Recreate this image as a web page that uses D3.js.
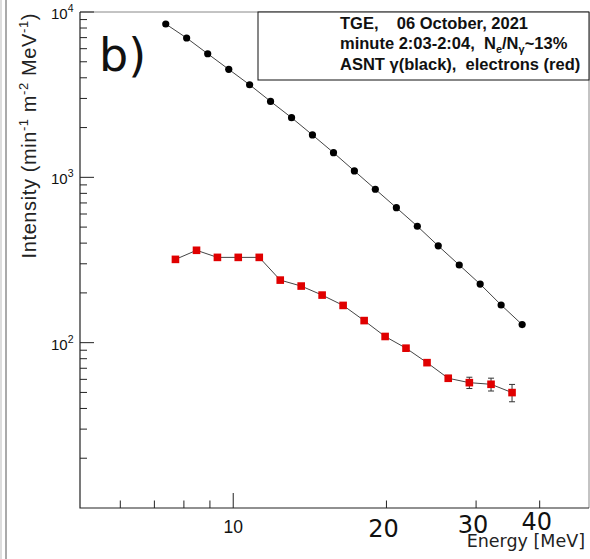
<!DOCTYPE html>
<html>
<head>
<meta charset="utf-8">
<script src="https://d3js.org/d3.v7.min.js"></script>
<style>
  body { margin: 0; background: #fff; }
  text { font-family: "Liberation Sans", Arial, sans-serif; white-space: pre; }
</style>
</head>
<body>
<svg id="main_canvas" width="590" height="559"></svg>
<script>
    // gamma spectrum (black) and electron spectrum (red)
    const gammaEnergy = [7.37, 8.10, 8.91, 9.80, 10.77, 11.84, 13.02, 14.31, 15.74, 17.30, 19.02, 20.92, 23.0, 25.28, 27.80, 30.56, 33.6, 36.95];
    const gammaIntensity = [8460, 6960, 5590, 4500, 3630, 2880, 2295, 1805, 1410, 1093, 847, 655, 506, 385, 295, 226, 169, 128.6];

    const electronEnergy = [7.70, 8.47, 9.31, 10.23, 11.25, 12.37, 13.60, 14.95, 16.44, 18.08, 19.88, 21.85, 24.03, 26.45, 29.1, 32.1, 35.3];
    const electronIntensity = [319, 362, 328, 328, 328, 239, 220, 194, 168, 136, 109, 92.6, 75.7, 60.9, 57.3, 56.0, 49.9];
    const electronError = [0, 0, 0, 0, 0, 0, 0, 0, 0, 0, 0, 0, 0, 2.5, 4.5, 5.0, 6.0];

    const xMajorTicks = [10];
    const xMinorTicks = [6, 7, 8, 9, 20, 30, 40];
    const xExtraLabels = ["20", "30", "40"];
    const yMajorTicks = [100, 1000, 10000];

    const legendLines = ["TGE,    06 October, 2021", "minute 2:03-2:04,  N", "ASNT \u03b3(black),  electrons (red)"];

    const margins = { left: 80, right: 1, top: 12, bottom: 51 };
    const W = 590, H = 559;

    const svg = d3.select("#main_canvas");

    const x = d3.scaleLog().domain([5, 50]).range([margins.left, W - margins.right]);
    const y = d3.scaleLog().domain([10, 10000]).range([H - margins.bottom, margins.top]);

    // gray strip at the left edge (left over from the neighbouring panel)
    svg.append("line")
        .attr("x1", 6).attr("x2", 6).attr("y1", 0).attr("y2", H)
        .attr("stroke", "#aaa").attr("stroke-width", 2);
    svg.append("line")
        .attr("x1", 1).attr("x2", 1).attr("y1", 0).attr("y2", H)
        .attr("stroke", "#ddd").attr("stroke-width", 2);

    // frame
    const x0 = x.range()[0], x1 = x.range()[1], y0 = y.range()[0], y1 = y.range()[1];
    svg.append("path")
        .attr("d", `M${x0},${y1}H${x1}V${y0}`)
        .attr("fill", "none").attr("stroke", "#888").attr("stroke-width", 1);
    svg.append("path")
        .attr("d", `M${x0},${y1}V${y0}H${x1}`)
        .attr("fill", "none").attr("stroke", "#222").attr("stroke-width", 1.2);

    // y ticks: majors at decades, minors 2..9
    const yMinor = [];
    for (let d = 10; d < 10000; d *= 10) {
        for (let k = 2; k <= 9; k++) yMinor.push(d * k);
    }
    svg.append("g").selectAll("line").data(yMinor).join("line")
        .attr("x1", x0).attr("x2", x0 + 7)
        .attr("y1", d => y(d)).attr("y2", d => y(d))
        .attr("stroke", "#222");
    svg.append("g").selectAll("line").data(yMajorTicks).join("line")
        .attr("x1", x0).attr("x2", x0 + 14)
        .attr("y1", d => y(d)).attr("y2", d => y(d))
        .attr("stroke", "#222");
    const yLab = svg.append("g").selectAll("text").data(yMajorTicks).join("text")
        .attr("x", x0 - 29).attr("y", d => y(d) + 7)
        .attr("text-anchor", "start")
        .style("font-size", "15px").attr("fill", "#111");
    yLab.append("tspan").text("10");
    yLab.append("tspan").attr("dy", -7).style("font-size", "10.5px")
        .text(d => Math.round(Math.log10(d)));

    // x ticks
    svg.append("g").selectAll("line").data(xMinorTicks).join("line")
        .attr("x1", d => x(d)).attr("x2", d => x(d))
        .attr("y1", y0).attr("y2", y0 - 7.5)
        .attr("stroke", "#222");
    svg.append("g").selectAll("line").data(xMajorTicks).join("line")
        .attr("x1", d => x(d)).attr("x2", d => x(d))
        .attr("y1", y0).attr("y2", y0 - 15)
        .attr("stroke", "#222");
    svg.append("g").selectAll("text").data(xMajorTicks).join("text")
        .attr("x", d => x(d)).attr("y", y0 + 25)
        .attr("text-anchor", "middle")
        .style("font-size", "17.5px").attr("fill", "#111")
        .text(d => d);

    // hand-added labels in another font
    const extraBaselines = [537, 533, 530];
    svg.append("g").selectAll("text").data(xExtraLabels).join("text")
        .attr("x", d => x(+d) - 3).attr("y", (d, i) => extraBaselines[i])
        .attr("text-anchor", "middle")
        .style("font-family", "'DejaVu Sans', sans-serif")
        .style("font-size", "24px").attr("fill", "#111")
        .text(d => d);
    svg.append("text")
        .attr("x", 585).attr("y", 547)
        .attr("text-anchor", "end")
        .style("font-family", "'DejaVu Sans', sans-serif")
        .style("font-size", "17.5px").attr("fill", "#222")
        .text("Energy [MeV]");
    svg.append("text")
        .attr("x", 99).attr("y", 71)
        .style("font-family", "'DejaVu Sans', sans-serif")
        .style("font-size", "46px").attr("fill", "#111")
        .text("b)");

    // y title
    const yTitle = svg.append("text")
        .attr("transform", `translate(36,${y1 + 1}) rotate(-90)`)
        .attr("text-anchor", "end")
        .style("font-size", "20px").style("letter-spacing", "0.6px").attr("fill", "#222");
    yTitle.append("tspan").text("Intensity (min");
    yTitle.append("tspan").attr("dy", -8).style("font-size", "13px").text("-1");
    yTitle.append("tspan").attr("dy", 8).text(" m");
    yTitle.append("tspan").attr("dy", -8).style("font-size", "13px").text("-2");
    yTitle.append("tspan").attr("dy", 8).text(" MeV");
    yTitle.append("tspan").attr("dy", -8).style("font-size", "13px").text("-1");
    yTitle.append("tspan").attr("dy", 8).text(")");

    // legend box
    svg.append("rect")
        .attr("x", 258).attr("y", y1).attr("width", x1 - 258).attr("height", 68)
        .attr("fill", "#fff").attr("stroke", "#111").attr("stroke-width", 1);
    const leg = svg.append("g")
        .style("font-size", "16.5px").style("font-weight", "bold").attr("fill", "#111");
    leg.append("text").attr("x", 340).attr("y", 29).text(legendLines[0]);
    const l2 = leg.append("text").attr("x", 340).attr("y", 49);
    l2.append("tspan").text(legendLines[1]);
    l2.append("tspan").attr("dy", 4).style("font-size", "11px").text("e");
    l2.append("tspan").attr("dy", -4).text("/N");
    l2.append("tspan").attr("dy", 4).style("font-size", "11px").text("\u03b3");
    l2.append("tspan").attr("dy", -4).text("~13%");
    leg.append("text").attr("x", 340).attr("y", 70).text(legendLines[2]);

    // data
    const gamma = gammaEnergy.map((e, i) => ({ e, v: gammaIntensity[i] }));
    const electrons = electronEnergy.map((e, i) => ({ e, v: electronIntensity[i], err: electronError[i] }));

    const line = d3.line().x(d => x(d.e)).y(d => y(d.v));

    svg.append("path").datum(gamma)
        .attr("d", line).attr("fill", "none")
        .attr("stroke", "#444").attr("stroke-width", 1);
    svg.append("path").datum(electrons)
        .attr("d", line).attr("fill", "none")
        .attr("stroke", "#444").attr("stroke-width", 1);

    // error bars on electrons
    const eb = svg.append("g").selectAll("g").data(electrons.filter(d => d.err > 0)).join("g")
        .attr("stroke", "#333").attr("stroke-width", 1);
    eb.append("line")
        .attr("x1", d => x(d.e)).attr("x2", d => x(d.e))
        .attr("y1", d => y(d.v - d.err)).attr("y2", d => y(d.v + d.err));
    eb.append("line")
        .attr("x1", d => x(d.e) - 3).attr("x2", d => x(d.e) + 3)
        .attr("y1", d => y(d.v - d.err)).attr("y2", d => y(d.v - d.err));
    eb.append("line")
        .attr("x1", d => x(d.e) - 3).attr("x2", d => x(d.e) + 3)
        .attr("y1", d => y(d.v + d.err)).attr("y2", d => y(d.v + d.err));

    svg.append("g").selectAll("circle").data(gamma).join("circle")
        .attr("cx", d => x(d.e)).attr("cy", d => y(d.v))
        .attr("r", 3.6).attr("fill", "#000");

    svg.append("g").selectAll("rect").data(electrons).join("rect")
        .attr("x", d => x(d.e) - 3.8).attr("y", d => y(d.v) - 3.8)
        .attr("width", 7.6).attr("height", 7.6)
        .attr("fill", "#e00000");
</script>
</body>
</html>
